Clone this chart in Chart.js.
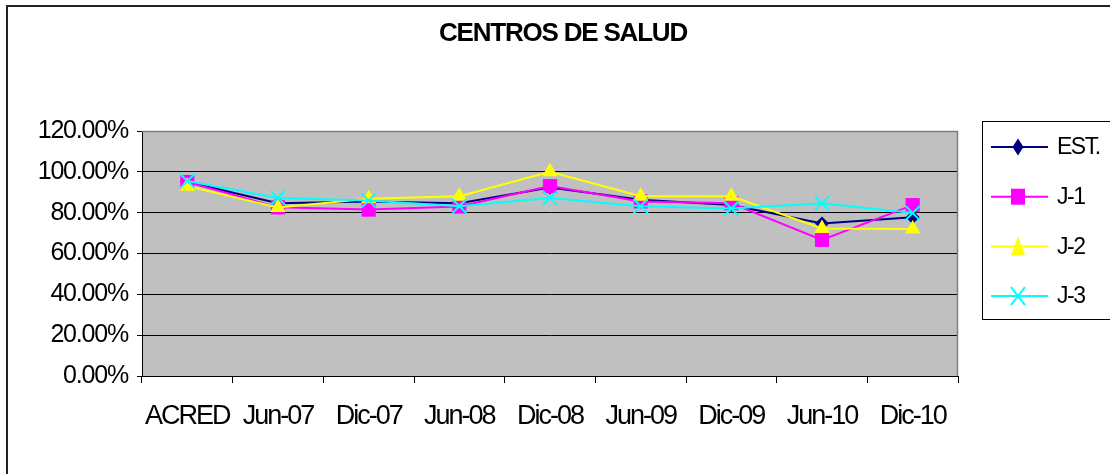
<!DOCTYPE html>
<html>
<head>
<meta charset="utf-8">
<script src="https://cdn.jsdelivr.net/npm/chart.js@4/dist/chart.umd.min.js"></script>
<style>
    body { margin: 0; background: #fff; }
</style>
</head>
<body>
<canvas id="centros" width="1110" height="474"></canvas>
<script>
// Datos
const chartTitle = "CENTROS DE SALUD";
const periodos = ["ACRED", "Jun-07", "Dic-07", "Jun-08", "Dic-08", "Jun-09", "Dic-09", "Jun-10", "Dic-10"];
const est = [95, 84.6, 85.5, 84.6, 92.3, 86.3, 83.7, 74.7, 77.8];
const j1 = [95, 82.6, 81.5, 83, 93, 85.5, 84.6, 66.7, 83.7];
const j2 = [93, 82.5, 86.8, 88, 100, 88, 88, 72.3, 72];
const j3 = [95.5, 87.2, 86, 83.2, 87.2, 83.2, 82, 84.6, 79.8];
const yTicks = [0, 20, 40, 60, 80, 100, 120];

const FONT = "'Liberation Sans', Arial, sans-serif";

// Etiquetas de ejes un poco mas apretadas, como en el original
function tightLabels(scale, spacing) {
    if (scale._tight) return;
    const original = scale.drawLabels;
    scale.drawLabels = function (area) {
        const ctx = this.ctx;
        ctx.save();
        ctx.letterSpacing = spacing;
        original.call(this, area);
        ctx.restore();
    };
    scale._tight = true;
}

// Fondo gris, borde del area, titulo, leyenda y marco exterior
const framePlugin = {
    id: "frame",
    beforeDraw(chart) {
        const { ctx, chartArea: a } = chart;
        tightLabels(chart.scales.x, "-2px");
        tightLabels(chart.scales.y, "-1.2px");
        ctx.save();
        ctx.fillStyle = "#fff";
        ctx.fillRect(0, 0, chart.width, chart.height);
        ctx.strokeStyle = "#222";
        ctx.lineWidth = 2;
        ctx.strokeRect(7, 6, 1130, 500);
        ctx.fillStyle = "#C0C0C0";
        ctx.fillRect(a.left, a.top, a.right - a.left, a.bottom - a.top);
        ctx.restore();
    },
    beforeDatasetsDraw(chart) {
        const { ctx, chartArea: a } = chart;
        ctx.save();
        ctx.strokeStyle = "#808080";
        ctx.lineWidth = 1.5;
        ctx.beginPath();
        ctx.moveTo(a.left, a.top + 0.5);
        ctx.lineTo(a.right - 0.5, a.top + 0.5);
        ctx.lineTo(a.right - 0.5, a.bottom);
        ctx.stroke();
        ctx.restore();
    },
    afterDraw(chart) {
        const ctx = chart.ctx;
        ctx.save();
        // Titulo
        ctx.font = "bold 26px " + FONT;
        ctx.fillStyle = "#000";
        ctx.textAlign = "center";
        ctx.textBaseline = "middle";
        ctx.letterSpacing = "-1.2px";
        ctx.fillText(chartTitle, 563, 34);
        ctx.letterSpacing = "0px";

        // Leyenda
        ctx.fillStyle = "#fff";
        ctx.fillRect(982.5, 121.5, 140, 198);
        ctx.strokeStyle = "#000";
        ctx.lineWidth = 1;
        ctx.strokeRect(982.5, 121.5, 140, 198);
        chart.data.datasets.forEach((ds, i) => {
            const y = 147 + i * 49.7;
            const cx = 1018;
            ctx.strokeStyle = ds.borderColor;
            ctx.lineWidth = 2;
            ctx.beginPath();
            ctx.moveTo(991, y);
            ctx.lineTo(1048, y);
            ctx.stroke();
            drawLegendMarker(ctx, ds, cx, y);
            ctx.fillStyle = "#000";
            ctx.font = "23px " + FONT;
            ctx.textAlign = "left";
            ctx.textBaseline = "middle";
            ctx.letterSpacing = "-1.5px";
            ctx.fillText(ds.label, 1057, y + 1);
            ctx.letterSpacing = "0px";
        });
        ctx.restore();
    }
};

function drawLegendMarker(ctx, ds, x, y) {
    ctx.fillStyle = ds.pointBackgroundColor;
    ctx.strokeStyle = ds.pointBorderColor;
    ctx.beginPath();
    if (ds.pointStyle === "rectRot") {
        ctx.moveTo(x - 5.5, y);
        ctx.lineTo(x, y - 8.5);
        ctx.lineTo(x + 5.5, y);
        ctx.lineTo(x, y + 8.5);
        ctx.closePath();
        ctx.fill();
    } else if (ds.pointStyle === "rect") {
        ctx.fillRect(x - 7, y - 8, 14, 16);
    } else if (ds.pointStyle === "triangle") {
        ctx.moveTo(x, y - 10);
        ctx.lineTo(x + 7, y + 9);
        ctx.lineTo(x - 7, y + 9);
        ctx.closePath();
        ctx.fill();
    } else {
        ctx.lineWidth = 2;
        ctx.moveTo(x - 7, y - 9);
        ctx.lineTo(x + 7, y + 9);
        ctx.moveTo(x + 7, y - 9);
        ctx.lineTo(x - 7, y + 9);
        ctx.stroke();
    }
}

function serie(label, data, color, style, radius, order) {
    return {
        label: label,
        data: data,
        borderColor: color,
        backgroundColor: color,
        pointBackgroundColor: color,
        pointBorderColor: color,
        pointStyle: style,
        pointRadius: radius,
        pointBorderWidth: style === "crossRot" ? 2 : 0,
        borderWidth: 2,
        tension: 0,
        order: order
    };
}

new Chart(document.getElementById("centros"), {
    type: "line",
    data: {
        labels: periodos,
        datasets: [
            serie("EST.", est, "#000080", "rectRot", 7, 3),
            serie("J-1", j1, "#FF00FF", "rect", 10, 2),
            serie("J-2", j2, "#FFFF00", "triangle", 9, 1),
            serie("J-3", j3, "#00FFFF", "crossRot", 10, 0)
        ]
    },
    options: {
        responsive: false,
        devicePixelRatio: 1,
        animation: false,
        layout: { padding: { top: 131, right: 152, bottom: 38, left: 0 } },
        plugins: {
            legend: { display: false },
            title: { display: false },
            tooltip: { enabled: false }
        },
        scales: {
            x: {
                offset: true,
                grid: { offset: true, drawOnChartArea: false, drawTicks: true, tickLength: 7, color: "#000" },
                border: { color: "#000", width: 1 },
                ticks: { font: { family: FONT, size: 27 }, color: "#000", padding: 17, maxRotation: 0, autoSkip: false },
                afterFit: scale => { scale.height = 60; }
            },
            y: {
                min: 0,
                max: 120,
                afterBuildTicks: scale => { scale.ticks = yTicks.map(v => ({ value: v })); },
                grid: {
                    color: ctx => (ctx.tick && ctx.tick.value === 120 ? "#808080" : "#000"),
                    tickLength: 5,
                    tickColor: "#000"
                },
                border: { color: "#000", width: 1 },
                ticks: {
                    font: { family: FONT, size: 25 },
                    color: "#000",
                    padding: 9,
                    callback: v => v.toFixed(2) + "%"
                },
                afterFit: scale => { scale.width = 142; }
            }
        }
    },
    plugins: [framePlugin]
});
</script>
</body>
</html>
